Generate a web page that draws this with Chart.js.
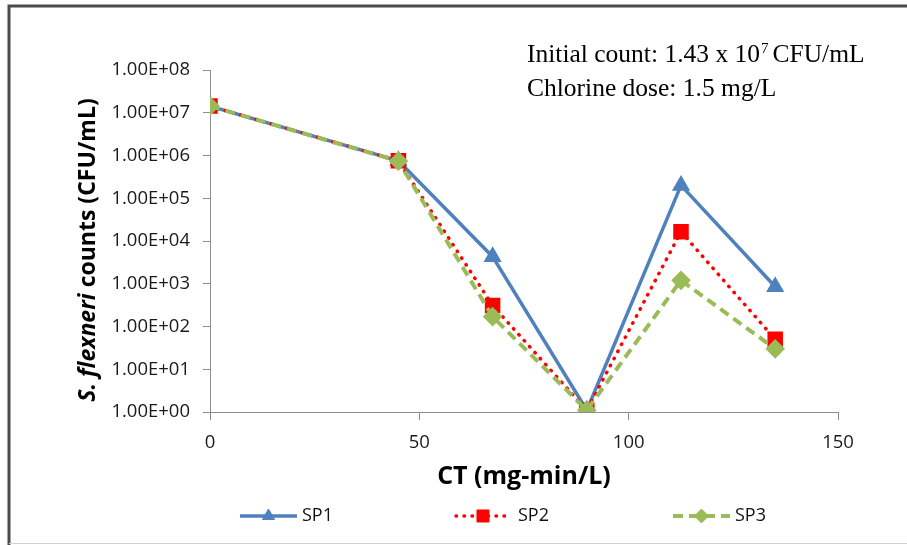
<!DOCTYPE html>
<html>
<head>
<meta charset="utf-8">
<script src="https://cdn.jsdelivr.net/npm/chart.js@4.4.1/dist/chart.umd.min.js"></script>
<style>
  html, body { margin: 0; padding: 0; background: #fff; }
  #wrap { width: 907px; height: 545px; position: relative; }
</style>
</head>
<body>
<div id="wrap"><canvas id="grafico" width="907" height="545"></canvas></div>
<script>
// CT values (mg-min/L) and counts (CFU/mL) for each sample
const ct = [0, 45, 67.5, 90, 112.5, 135];
const sp1 = [1.43e7, 7.5e5, 4.3e3, 1.1, 2.0e5, 8.5e2];
const sp2 = [1.43e7, 7.5e5, 3.1e2, 1.1, 1.65e4, 50];
const sp3 = [1.43e7, 7.4e5, 1.7e2, 1.1, 1.2e3, 30];

const xTicks = [0, 50, 100, 150];
const yTicks = [1, 1e1, 1e2, 1e3, 1e4, 1e5, 1e6, 1e7, 1e8];
const yTickLabels = ['1.00E+00', '1.00E+01', '1.00E+02', '1.00E+03', '1.00E+04',
                     '1.00E+05', '1.00E+06', '1.00E+07', '1.00E+08'];

const serie = (vals) => ct.map((x, i) => ({ x: x, y: vals[i] }));

const azul = '#4F81BD';
const rojo = '#FF0000';
const verde = '#9BBB59';
const ejeColor = '#8c8c8c';
const fuente = '"Open Sans"';

// titulos, anotacion, leyenda y marco
const extras = {
  id: 'extras',
  beforeDraw(chart) {
    const c = chart.ctx;
    c.save();
    c.fillStyle = '#fff';
    c.fillRect(0, 0, chart.width, chart.height);
    c.strokeStyle = '#4a4a4a';
    c.lineWidth = 3;
    c.beginPath();
    c.moveTo(9, 545);
    c.lineTo(9, 6);
    c.lineTo(907, 6);
    c.stroke();
    c.strokeStyle = '#d0d0d0';
    c.lineWidth = 1;
    c.beginPath();
    c.moveTo(9, 543.5);
    c.lineTo(907, 543.5);
    c.stroke();
    c.restore();
  },
  afterDraw(chart) {
    const c = chart.ctx;
    const area = chart.chartArea;
    c.save();
    c.fillStyle = '#000';

    // titulo eje X
    c.font = 'bold 25px ' + fuente;
    c.textAlign = 'center';
    c.textBaseline = 'middle';
    c.fillText('CT (mg-min/L)', (area.left + area.right) / 2, 477);

    // titulo eje Y con nombre de especie en cursiva
    const p1 = 'S. flexneri';
    const p2 = ' counts (CFU/mL)';
    c.translate(88, 250);
    c.rotate(-Math.PI / 2);
    c.font = 'italic bold 23px ' + fuente;
    const w1 = c.measureText(p1).width;
    c.font = 'bold 23px ' + fuente;
    const w2 = c.measureText(p2).width;
    c.textAlign = 'left';
    let x0 = -(w1 + w2) / 2;
    c.font = 'italic bold 23px ' + fuente;
    c.fillText(p1, x0, 0);
    c.font = 'bold 23px ' + fuente;
    c.fillText(p2, x0 + w1, 0);
    c.setTransform(1, 0, 0, 1, 0, 0);

    // anotacion
    c.textBaseline = 'alphabetic';
    c.textAlign = 'left';
    c.font = '25.5px "Liberation Serif"';
    let tx = 527;
    const a = 'Initial count: 1.43 x 10';
    c.fillText(a, tx, 62);
    tx += c.measureText(a).width + 1;
    c.font = '15px "Liberation Serif"';
    c.fillText('7', tx, 53);
    tx += c.measureText('7').width + 4;
    c.font = '25.5px "Liberation Serif"';
    c.fillText('CFU/mL', tx, 62);
    c.fillText('Chlorine dose: 1.5 mg/L', 527, 96);

    // leyenda
    const items = [
      { ds: 0, x1: 240, x2: 297, tx: 302 },
      { ds: 1, x1: 456, x2: 510, tx: 518 },
      { ds: 2, x1: 673, x2: 730, tx: 735 }
    ];
    const ly = 516;
    items.forEach(it => {
      const d = chart.data.datasets[it.ds];
      c.save();
      c.strokeStyle = d.borderColor;
      c.lineWidth = d.borderWidth;
      c.lineCap = d.borderCapStyle || 'butt';
      c.setLineDash(d.borderDash || []);
      c.beginPath();
      c.moveTo(it.x1, ly);
      c.lineTo(it.x2, ly);
      c.stroke();
      c.restore();
      c.fillStyle = d.pointBackgroundColor;
      c.strokeStyle = d.pointBorderColor;
      c.lineWidth = 1;
      Chart.helpers.drawPoint(c, { pointStyle: d.pointStyle, radius: d.pointRadius, borderWidth: 1, rotation: 0 },
        (it.x1 + it.x2) / 2, ly);
      c.fillStyle = '#111';
      c.font = '18px ' + fuente;
      c.textAlign = 'left';
      c.textBaseline = 'middle';
      c.fillText(d.label, it.tx, ly);
    });
    c.restore();
  }
};

new Chart(document.getElementById('grafico'), {
  type: 'line',
  data: {
    datasets: [
      {
        label: 'SP1',
        data: serie(sp1),
        borderColor: azul,
        borderWidth: 3.5,
        pointStyle: 'triangle',
        pointRadius: 7,
        pointBackgroundColor: azul,
        pointBorderColor: azul,
        order: 2
      },
      {
        label: 'SP2',
        data: serie(sp2),
        borderColor: rojo,
        borderWidth: 3.5,
        borderDash: [0.5, 7.5],
        borderCapStyle: 'round',
        pointStyle: 'rect',
        pointRadius: 8.5,
        pointBackgroundColor: rojo,
        pointBorderColor: rojo,
        order: 1
      },
      {
        label: 'SP3',
        data: serie(sp3),
        borderColor: verde,
        borderWidth: 4,
        borderDash: [10, 6],
        pointStyle: 'rectRot',
        pointRadius: 7,
        pointBackgroundColor: verde,
        pointBorderColor: verde,
        order: 0
      }
    ]
  },
  options: {
    responsive: false,
    animation: false,
    layout: { padding: { top: 70, right: 69, left: 0, bottom: 0 } },
    plugins: {
      legend: { display: false },
      tooltip: { enabled: false }
    },
    elements: { line: { tension: 0 }, point: { borderWidth: 1 } },
    scales: {
      x: {
        type: 'linear',
        min: 0,
        max: 150,
        afterBuildTicks: s => { s.ticks = xTicks.map(v => ({ value: v })); },
        afterFit: s => { s.height = 133; },
        grid: { drawOnChartArea: false, color: ejeColor, tickLength: 8 },
        border: { color: ejeColor, width: 1 },
        ticks: { color: '#1a1a1a', font: { family: fuente, size: 18.5 }, padding: 12, maxRotation: 0 }
      },
      y: {
        type: 'logarithmic',
        min: 1,
        max: 1e8,
        afterBuildTicks: s => { s.ticks = yTicks.map(v => ({ value: v, major: true })); },
        afterFit: s => { s.width = 210; },
        grid: { drawOnChartArea: false, color: ejeColor, tickLength: 7 },
        border: { color: ejeColor, width: 1 },
        ticks: {
          color: '#1a1a1a',
          font: { family: fuente, size: 18.5 },
          padding: 13,
          callback: (v, i) => yTickLabels[i]
        }
      }
    }
  },
  plugins: [extras]
});
</script>
</body>
</html>
